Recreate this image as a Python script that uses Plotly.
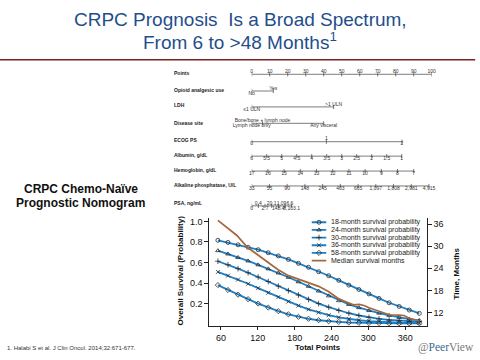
import plotly.graph_objects as go

# ---------------- data ----------------
total_points = [55.0, 71.4, 87.8, 104.2, 120.6, 137.0, 153.4, 169.8, 186.2, 202.6, 219.0,
                235.4, 251.8, 268.2, 284.6, 301.0, 317.4, 333.8, 350.2, 366.6, 383.0]
surv_18 = [0.816, 0.795, 0.772, 0.748, 0.724, 0.695, 0.664, 0.630, 0.592, 0.553, 0.510,
           0.471, 0.426, 0.380, 0.337, 0.294, 0.250, 0.208, 0.172, 0.137, 0.105]
surv_24 = [0.715, 0.683, 0.648, 0.615, 0.577, 0.538, 0.498, 0.456, 0.412, 0.368, 0.322,
           0.275, 0.228, 0.192, 0.160, 0.132, 0.107, 0.085, 0.065, 0.048, 0.036]
surv_30 = [0.612, 0.578, 0.540, 0.500, 0.458, 0.415, 0.370, 0.326, 0.283, 0.240, 0.200,
           0.165, 0.133, 0.106, 0.084, 0.066, 0.052, 0.041, 0.033, 0.027, 0.023]
surv_36 = [0.508, 0.472, 0.434, 0.393, 0.350, 0.306, 0.263, 0.220, 0.180, 0.144, 0.113,
           0.087, 0.066, 0.050, 0.038, 0.029, 0.023, 0.018, 0.015, 0.013, 0.012]
surv_58 = [0.380, 0.332, 0.287, 0.243, 0.200, 0.161, 0.126, 0.096, 0.071, 0.052, 0.038,
           0.028, 0.021, 0.016, 0.013, 0.011, 0.010, 0.009, 0.008, 0.008, 0.008]
median_points = [55, 70, 86, 103, 120, 137, 153, 170, 186, 203, 219, 235, 252, 268, 276,
                 285, 293, 301, 318, 334, 350, 358, 367, 383]
median_months = [37.0, 35.0, 32.9, 29.7, 27.6, 25.5, 23.6, 22.0, 21.0, 20.0, 19.1, 17.7,
                 15.7, 14.6, 14.1, 14.2, 13.9, 13.3, 12.3, 11.4, 11.3, 11.2, 10.4, 9.7]
series_names = ["18-month survival probability", "24-month survival probability",
                "30-month survival probability", "36-month survival probability",
                "58-month survival probability", "Median survival months"]
x_ticks = [60, 120, 180, 240, 300, 360]
y_ticks = [0.2, 0.4, 0.6, 0.8, 1.0]
y2_ticks = [12, 18, 24, 30, 36]

# nomogram scales (label, points)
nomo_rows = ["Points", "Opioid analgesic use", "LDH", "Disease site", "ECOG PS",
             "Albumin, g/dL", "Hemoglobin, g/dL", "Alkaline phosphatase, U/L", "PSA, ng/mL"]
points_labels = ["0", "10", "20", "30", "40", "50", "60", "70", "80", "90", "100"]
points_pos = [0, 10, 20, 30, 40, 50, 60, 70, 80, 90, 100]
opioid_labels = ["No", "Yes"]
opioid_pos = [0, 12]
ldh_labels = ["≤1 ULN", "&gt;1 ULN"]
ldh_pos = [0, 45.5]
site_labels = ["Lymph node only", "Bone/bone + lymph node", "Any visceral"]
site_pos = [0, 6, 40]
ecog_labels = ["0", "1", "2"]
ecog_pos = [0, 41.5, 83.5]
albumin_labels = ["6", "5.5", "5", "4.5", "4", "3.5", "3", "2.5", "2", "1.5", "1"]
albumin_pos = [0, 8.33, 16.67, 25, 33.33, 41.67, 50, 58.33, 66.67, 75, 83.33]
hgb_labels = ["17", "16", "15", "14", "13", "12", "11", "10", "9", "8", "7"]
hgb_pos = [0, 9, 18, 27, 36, 45, 54, 63, 72, 81, 90]
alp_labels = ["33", "55", "90", "148", "245", "403", "665", "1,097", "1,808", "2,981", "4,915"]
alp_pos = [0, 9.85, 19.7, 29.55, 39.4, 49.25, 59.1, 68.95, 78.8, 88.65, 98.5]
psa_labels = ["0", "0.4", "2.7", "20.1", "148.4", "1,096.6", "8,103.1"]
psa_pos = [0, 3.7, 7.4, 11.1, 14.8, 18.5, 22.2]

# ---------------- layout constants ----------------
W, H = 480, 360
FONT = "Arial, Liberation Sans, sans-serif"
BLUE = "#1f7fc4"
BROWN = "#a5683c"
MK = "#2a2a2a"

def px_x(p):
    return p / W

def px_y(p):
    return 1 - p / H

nomo_scales = {
    "Points": (points_labels, points_pos, ["t"] * 11),
    "Opioid analgesic use": (opioid_labels, opioid_pos, ["b", "t"]),
    "LDH": (ldh_labels, ldh_pos, ["b", "t"]),
    "Disease site": (site_labels, site_pos, ["b", "t", "b"]),
    "ECOG PS": (ecog_labels, ecog_pos, ["b", "t", "b"]),
    "Albumin, g/dL": (albumin_labels, albumin_pos, ["b"] * 11),
    "Hemoglobin, g/dL": (hgb_labels, hgb_pos, ["b"] * 11),
    "Alkaline phosphatase, U/L": (alp_labels, alp_pos, ["b"] * 11),
    "PSA, ng/mL": (psa_labels, psa_pos, ["b", "t", "b", "t", "b", "t", "b"]),
}
row_line_y = [72.7, 89.5, 105.5, 122, 140.5, 155, 170, 185, 205]
row_name_y = [71, 88, 104, 121.5, 139, 153.5, 169, 184, 202.3]

fig = go.Figure()

# ---------------- survival chart ----------------
surv_series = [surv_18, surv_24, surv_30, surv_36, surv_58]
symbols = ["circle-open", "triangle-up-open", "cross-thin-open", "x-thin-open", "diamond-open"]
for name, vals, sym in zip(series_names[:5], surv_series, symbols):
    fig.add_trace(go.Scatter(
        x=total_points, y=vals, name=name, mode="lines+markers",
        line=dict(color=BLUE, width=1.8),
        marker=dict(symbol=sym, size=4, color=MK, line=dict(width=0.8, color=MK)),
        xaxis="x", yaxis="y", showlegend=False))
fig.add_trace(go.Scatter(
    x=median_points, y=median_months, name=series_names[5], mode="lines",
    line=dict(color=BROWN, width=1.7), xaxis="x", yaxis="y2", showlegend=False))

# ---------------- custom compact legend ----------------
leg_y0, leg_dy = 221.5, 7.7
for i, name in enumerate(series_names):
    ry = leg_y0 + i * leg_dy
    if i < 5:
        fig.add_trace(go.Scatter(
            x=[0, 1], y=[ry, ry], mode="lines", line=dict(color=BLUE, width=1.8),
            xaxis="x4", yaxis="y4", showlegend=False, hoverinfo="skip"))
        fig.add_trace(go.Scatter(
            x=[0.5], y=[ry], mode="markers",
            marker=dict(symbol=symbols[i], size=4, color=MK, line=dict(width=0.8, color=MK)),
            xaxis="x4", yaxis="y4", showlegend=False, hoverinfo="skip"))
    else:
        fig.add_trace(go.Scatter(
            x=[0, 1], y=[ry, ry], mode="lines", line=dict(color=BROWN, width=1.7),
            xaxis="x4", yaxis="y4", showlegend=False, hoverinfo="skip"))
    fig.add_annotation(x=px_x(329), y=ry, xref="paper", yref="y4", text=name,
                       showarrow=False, xanchor="left", yanchor="middle",
                       font=dict(family=FONT, size=7, color="#222"))

# ---------------- nomogram ----------------
NOMO_TXT = "#333"
for ri, row in enumerate(nomo_rows):
    labels, pos, sides = nomo_scales[row]
    ly = row_line_y[ri]
    fig.add_trace(go.Scatter(x=[min(pos), max(pos)], y=[ly, ly], mode="lines",
                             line=dict(color="#444", width=0.7), xaxis="x3", yaxis="y3",
                             showlegend=False, hoverinfo="skip"))
    fig.add_trace(go.Scatter(x=pos, y=[ly] * len(pos), mode="markers",
                             marker=dict(symbol="line-ns-open", size=3, color="#444",
                                         line=dict(width=0.7, color="#444")),
                             xaxis="x3", yaxis="y3", showlegend=False, hoverinfo="skip"))
    for side, tp in (("t", "top center"), ("b", "bottom center")):
        xs = [p for p, s in zip(pos, sides) if s == side]
        ts = [l for l, s in zip(labels, sides) if s == side]
        if xs:
            fig.add_trace(go.Scatter(x=xs, y=[ly] * len(xs), mode="text", text=ts,
                                     textposition=tp, cliponaxis=False,
                                     textfont=dict(family=FONT, size=5, color=NOMO_TXT),
                                     xaxis="x3", yaxis="y3", showlegend=False, hoverinfo="skip"))
    fig.add_annotation(x=px_x(172), y=row_name_y[ri], xref="paper", yref="y3",
                       text="<b>" + row + "</b>", showarrow=False, xanchor="left",
                       yanchor="middle", font=dict(family=FONT, size=5, color="#222"))

# ---------------- texts ----------------
TITLE_C = "#1f4e8c"
fig.add_annotation(x=0.5, y=px_y(17.5), xref="paper", yref="paper",
                   text="CRPC Prognosis  Is a Broad Spectrum,", showarrow=False,
                   xanchor="center", yanchor="middle",
                   font=dict(family=FONT, size=19, color=TITLE_C))
fig.add_annotation(x=0.5, y=px_y(39.5), xref="paper", yref="paper",
                   text="From 6 to &gt;48 Months<sup>1</sup>", showarrow=False,
                   xanchor="center", yanchor="middle",
                   font=dict(family=FONT, size=19, color=TITLE_C))
fig.add_shape(type="line", xref="paper", yref="paper", x0=0, x1=0.99,
              y0=px_y(58), y1=px_y(58), line=dict(color="#7a1f1f", width=1.5))
fig.add_annotation(x=px_x(80.5), y=px_y(188.5), xref="paper", yref="paper",
                   text="<b>CRPC Chemo-Naïve</b>", showarrow=False,
                   xanchor="center", yanchor="middle",
                   font=dict(family=FONT, size=12, color="#111"))
fig.add_annotation(x=px_x(80.5), y=px_y(202.5), xref="paper", yref="paper",
                   text="<b>Prognostic Nomogram</b>", showarrow=False,
                   xanchor="center", yanchor="middle",
                   font=dict(family=FONT, size=12, color="#111"))
fig.add_annotation(x=px_x(5), y=px_y(348), xref="paper", yref="paper",
                   text="1. Halabi S et al. J Clin Oncol. 2014;32:671-677.", showarrow=False,
                   xanchor="left", yanchor="middle", font=dict(family=FONT, size=6, color="#333"))
fig.add_annotation(x=px_x(446), y=px_y(347), xref="paper", yref="paper",
                   text="@<span style='color:#3a6894'>Peer</span>View", showarrow=False,
                   xanchor="center", yanchor="middle",
                   font=dict(family="Liberation Serif, DejaVu Serif, serif", size=11.5, color="#7a7a7a"))
fig.add_annotation(x=px_x(180), y=px_y(270), xref="paper", yref="paper",
                   text="<b>Overall Survival (Probability)</b>", showarrow=False, textangle=-90,
                   xanchor="center", yanchor="middle",
                   font=dict(family=FONT, size=8, color="#111"))
fig.add_annotation(x=px_x(318), y=px_y(347), xref="paper", yref="paper",
                   text="<b>Total Points</b>", showarrow=False,
                   xanchor="center", yanchor="middle",
                   font=dict(family=FONT, size=8, color="#111"))
fig.add_annotation(x=px_x(456), y=px_y(273), xref="paper", yref="paper",
                   text="<b>Time, Months</b>", showarrow=False, textangle=-90,
                   xanchor="center", yanchor="middle",
                   font=dict(family=FONT, size=8, color="#111"))

axis_common = dict(showgrid=False, zeroline=False, showline=True, linecolor="#222",
                   linewidth=1, ticks="outside", tickcolor="#222", tickwidth=1,
                   tickfont=dict(family=FONT, size=9, color="#111"))
plot_dom_x = [px_x(209.3), px_x(426.7)]
plot_dom_y = [px_y(326), px_y(217.5)]

fig.update_layout(
    width=W, height=H, autosize=False,
    margin=dict(l=0, r=0, t=0, b=0),
    paper_bgcolor="white", plot_bgcolor="white",
    showlegend=False,
    xaxis=dict(domain=plot_dom_x, range=[41, 395], tickvals=x_ticks, ticklen=3,
               anchor="y", **axis_common),
    yaxis=dict(domain=plot_dom_y, range=[-0.02, 1.03], tickvals=y_ticks,
               tickformat=".1f", ticklen=4, anchor="x", **axis_common),
    yaxis2=dict(domain=plot_dom_y, range=[8.3, 37.56], tickvals=y2_ticks, ticklen=4,
                overlaying="y", side="right", anchor="x", **axis_common),
    xaxis3=dict(domain=[px_x(251.7), px_x(431.7)], range=[0, 100], visible=False,
                anchor="y3"),
    yaxis3=dict(domain=[px_y(215), px_y(60)], range=[215, 60], visible=False,
                anchor="x3"),
    xaxis4=dict(domain=[px_x(311.5), px_x(326.5)], range=[0, 1], visible=False,
                anchor="y4"),
    yaxis4=dict(domain=[px_y(265), px_y(217)], range=[265, 217], visible=False,
                anchor="x4"),
)

fig.write_html("out.html", config={"displayModeBar": False},
               post_script="document.body.style.margin='0';document.body.style.overflow='hidden';")
